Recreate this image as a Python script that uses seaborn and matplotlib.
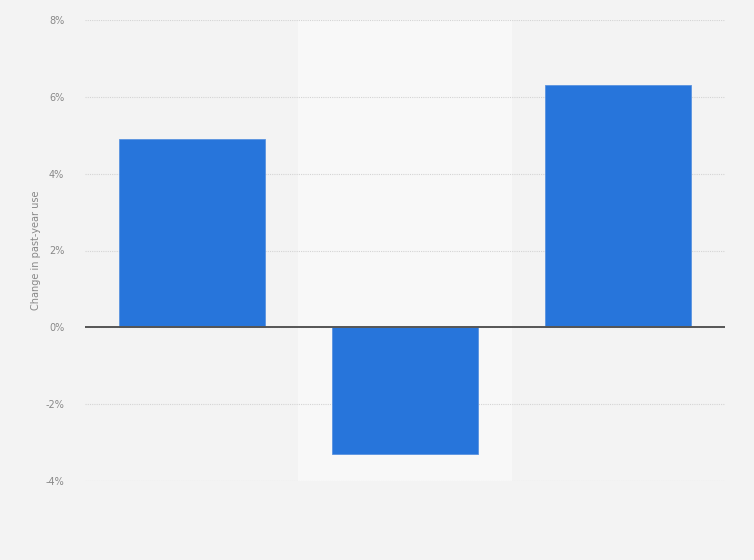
import matplotlib
matplotlib.use("Agg")
import matplotlib.pyplot as plt
import seaborn as sns
import pandas as pd
from matplotlib.ticker import FuncFormatter

categories = ["Group 1", "Group 2", "Group 3"]
values = [4.9, -3.3, 6.3]
yticks = [-4, -2, 0, 2, 4, 6, 8]

sns.set_theme(style="white")
plt.rcParams['font.family'] = ['DejaVu Sans']

df = pd.DataFrame({"category": categories, "value": values})

fig = plt.figure(figsize=(7.54, 5.60), dpi=100)
fig.patch.set_facecolor("#f3f3f3")
ax = fig.add_axes([85/754, 1-481/560, 640/754, 461/560])
ax.set_facecolor("#f3f3f3")

# alternating band
ax.axvspan(0.5, 1.5, color="#f8f8f8", zorder=0, lw=0)

sns.barplot(data=df, x="category", y="value", color="#2775db", width=0.685,
            saturation=1, ax=ax, zorder=3, edgecolor="#5a93e0", linewidth=0.6)

ax.set_ylim(-4, 8)
ax.set_xlim(-0.5, 2.5)
ax.set_yticks(yticks)
ax.yaxis.set_major_formatter(FuncFormatter(lambda v, p: f"{int(v)}%"))
ax.grid(axis="y", color="#d4d4d4", linestyle=(0, (1, 1)), linewidth=0.8, zorder=1)
ax.axhline(0, color="#555555", linewidth=1.4, zorder=4)
for s in ax.spines.values():
    s.set_visible(False)
ax.tick_params(axis="y", length=0, labelsize=7, labelcolor="#888888", pad=15)
ax.tick_params(axis="x", length=0, labelbottom=False)
ax.set_xlabel("")
ax.set_ylabel("Change in past-year use", fontsize=7, color="#888888", labelpad=3)

fig.savefig("out.png", dpi=100, facecolor=fig.get_facecolor())
